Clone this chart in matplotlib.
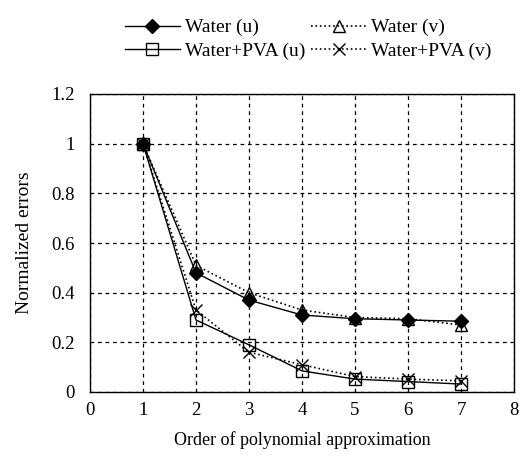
import matplotlib
matplotlib.use("Agg")
import matplotlib.pyplot as plt

orders = [1, 2, 3, 4, 5, 6, 7]
water_u = [1.0, 0.48, 0.37, 0.31, 0.295, 0.29, 0.285]
water_v = [1.0, 0.51, 0.40, 0.33, 0.30, 0.295, 0.27]
pva_u = [1.0, 0.29, 0.19, 0.085, 0.052, 0.042, 0.032]
pva_v = [1.0, 0.33, 0.16, 0.11, 0.062, 0.052, 0.045]

xticks = [0, 1, 2, 3, 4, 5, 6, 7, 8]
yticks = [0, 0.2, 0.4, 0.6, 0.8, 1.0, 1.2]
ytick_labels = ["0", "0.2", "0.4", "0.6", "0.8", "1", "1.2"]

plt.rcParams['font.family'] = ['Liberation Serif', 'DejaVu Serif']

fig = plt.figure(figsize=(5.27, 4.63), dpi=100)
ax = fig.add_axes([90/527, 1-392/463, (514-90)/527, (392-94)/463])

l1, = ax.plot(orders, water_u, '-', color='black', lw=1.0, marker='D',
              markersize=7, markerfacecolor='black', markeredgecolor='black', label='Water (u)')
l2, = ax.plot(orders, water_v, ':', color='black', lw=1.2, marker='^',
              markersize=8, markerfacecolor='none', markeredgecolor='black', label='Water (v)')
l3, = ax.plot(orders, pva_u, '-', color='black', lw=1.0, marker='s',
              markersize=8, markerfacecolor='none', markeredgecolor='black', label='Water+PVA (u)')
l4, = ax.plot(orders, pva_v, ':', color='black', lw=1.2, marker='x',
              markersize=9, markeredgecolor='black', label='Water+PVA (v)')

ax.set_xlim(0, 8)
ax.set_ylim(0, 1.2)
ax.set_xticks(xticks)
ax.set_yticks(yticks)
ax.set_yticklabels(ytick_labels)
ax.tick_params(axis='y', length=0, labelsize=13.5, pad=11)
ax.tick_params(axis='x', length=0, labelsize=13.5, pad=7)
ax.grid(True, color='black', linestyle=(0, (3, 3)), linewidth=0.9)
for s in ax.spines.values():
    s.set_linewidth(1.0)
    s.set_color('black')

ax.set_xlabel('Order of polynomial approximation', fontsize=13)
ax.set_ylabel('Normalized errors', fontsize=14)
ax.xaxis.set_label_coords(0.5, -(440-392)/298, transform=ax.transAxes)
ax.xaxis.label.set_va('center')
ax.yaxis.set_label_coords(-(90-25)/424, 0.5, transform=ax.transAxes)
ax.yaxis.label.set_va('center')

fig.legend(handles=[l1, l3, l2, l4], loc='upper left', bbox_to_anchor=(115/527, 1-9/463),
           ncol=2, frameon=False, fontsize=14, handlelength=2.85, handletextpad=0.25,
           columnspacing=0.3, labelspacing=0.3, borderpad=0)

fig.savefig('out.png', dpi=100)
